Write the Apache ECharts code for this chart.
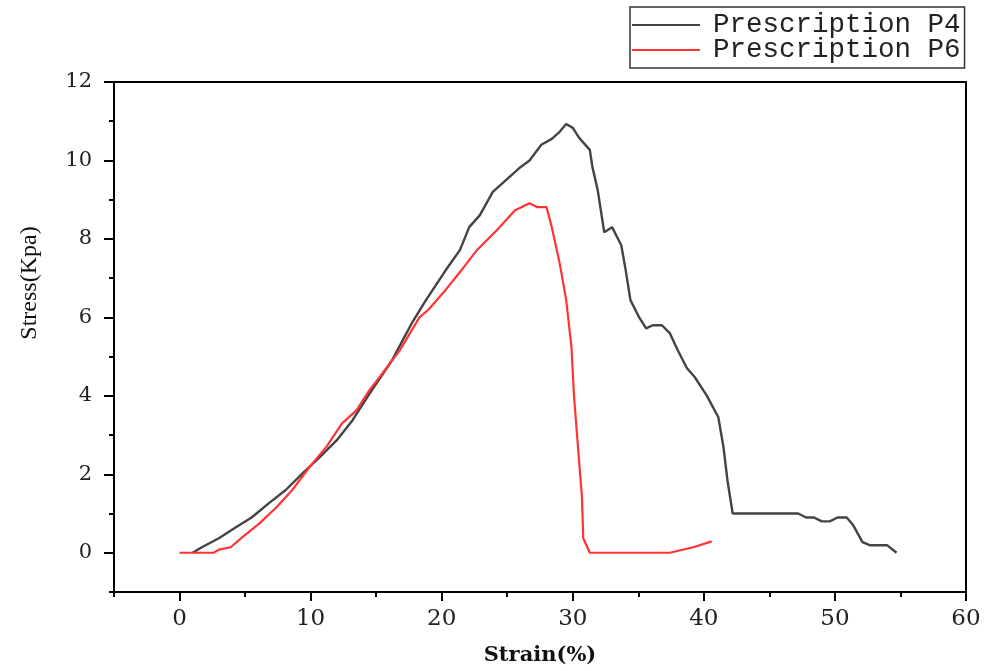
<!DOCTYPE html>
<html>
<head>
<meta charset="utf-8">
<script src="https://cdn.jsdelivr.net/npm/echarts@6/dist/echarts.min.js"></script>
<style>
html,body{margin:0;padding:0;background:#fff;}
#chart{width:984px;height:671px;}
</style>
</head>
<body>
<div id="chart"></div>
<script>
var seriesNames = ['Prescription P4', 'Prescription P6'];
var p4Strain = [1.0,1.7,3.0,4.3,5.5,6.8,8.1,9.4,10.7,12.0,13.2,14.5,16.2,17.0,17.8,18.8,20.3,21.4,22.1,22.9,23.9,24.9,25.9,26.7,27.6,28.4,29.0,29.5,30.0,30.5,31.3,31.5,31.9,32.4,33.0,33.7,34.0,34.4,35.1,35.6,36.1,36.8,37.4,38.0,38.7,39.3,40.2,41.1,41.5,41.8,42.2,47.2,47.8,48.4,49.0,49.6,50.2,50.9,51.4,52.1,52.7,54.0,54.7];
var p4Stress = [0,0.14,0.37,0.65,0.9,1.26,1.6,2.03,2.44,2.87,3.38,4.06,4.9,5.4,5.9,6.44,7.2,7.72,8.3,8.6,9.2,9.5,9.8,10.0,10.4,10.55,10.73,10.93,10.83,10.57,10.27,9.83,9.25,8.17,8.3,7.84,7.28,6.44,5.98,5.72,5.8,5.8,5.6,5.17,4.71,4.48,4.02,3.46,2.69,1.85,1.0,1.0,0.9,0.9,0.8,0.8,0.9,0.9,0.7,0.27,0.19,0.19,0.0];
var p6Strain = [0,2.6,3.0,3.9,4.8,6.1,7.4,8.6,9.9,11.2,12.4,13.5,14.5,15.2,16.0,16.8,18.3,19.0,20.3,21.5,22.7,24.2,25.6,26.7,27.3,28.0,28.4,29.0,29.5,29.9,30.1,30.4,30.7,30.8,31.3,37.4,39.2,40.6];
var p6Stress = [0,0,0.08,0.14,0.4,0.75,1.16,1.6,2.18,2.7,3.3,3.63,4.15,4.45,4.8,5.16,6.0,6.2,6.7,7.2,7.72,8.22,8.73,8.91,8.81,8.81,8.3,7.38,6.44,5.24,3.97,2.69,1.42,0.37,0,0,0.14,0.29];
var xTicks = [0,10,20,30,40,50,60];
var xMinorTicks = [-5,5,15,25,35,45,55];
var yTicks = [0,2,4,6,8,10,12];
var yMinorTicks = [-1,1,3,5,7,9,11];

function pairs(xs, ys){ return xs.map(function(x,i){ return [x, ys[i]]; }); }

var chart = echarts.init(document.getElementById('chart'), null, {renderer:'canvas'});
var lineOn = {show:true, onZero:false, lineStyle:{color:'#000', width:2}};
var lineOff = {show:false, onZero:false};
var tickStyle = {color:'#000', width:2};
var option = {
  backgroundColor:'#fff',
  animation:false,
  grid:{left:114, right:18, top:82, bottom:79, containLabel:false, outerBoundsMode:'none'},
  legend:{
    orient:'vertical', left:630, top:7,
    data:seriesNames, icon:'rect',
    borderColor:'#333', borderWidth:1.5, borderRadius:0,
    padding:[4,4,4,2], itemGap:-3,
    itemWidth:68, itemHeight:2,
    textStyle:{fontFamily:'Liberation Mono', fontSize:27.5, color:'#222', lineHeight:25, height:25, padding:[0,0,0,8]}
  },
  xAxis:[{
    type:'value', min:-5, max:60, position:'bottom',
    name:'Strain(%)', nameLocation:'middle', nameGap:53,
    nameTextStyle:{fontFamily:'DejaVu Serif', fontWeight:'bold', fontSize:21, color:'#111'},
    axisLine:lineOn,
    axisTick:{show:true, inside:false, length:9, customValues:xTicks, lineStyle:tickStyle},
    axisLabel:{margin:16, fontFamily:'DejaVu Serif', fontSize:23, color:'#222', customValues:xTicks},
    splitLine:{show:false}
  },{
    type:'value', min:-5, max:60, position:'bottom', gridIndex:0,
    axisLine:lineOff,
    axisTick:{show:true, inside:false, length:5, customValues:xMinorTicks, lineStyle:tickStyle},
    axisLabel:{show:false}, splitLine:{show:false}
  },{
    type:'value', min:-5, max:60, position:'top',
    axisLine:lineOn, axisTick:{show:false}, axisLabel:{show:false}, splitLine:{show:false}
  }],
  yAxis:[{
    type:'value', min:-1, max:12, position:'left',
    name:'Stress(Kpa)', nameLocation:'middle', nameGap:72, nameRotate:90,
    nameTextStyle:{fontFamily:'Liberation Serif', fontSize:24, color:'#111', padding:[0,0,0,108]},
    axisLine:lineOn,
    axisTick:{show:true, inside:false, length:10, customValues:yTicks, lineStyle:tickStyle},
    axisLabel:{margin:22, fontFamily:'DejaVu Serif', fontSize:21, color:'#222', customValues:yTicks},
    splitLine:{show:false}
  },{
    type:'value', min:-1, max:12, position:'left',
    axisLine:lineOff,
    axisTick:{show:true, inside:false, length:5, customValues:yMinorTicks, lineStyle:tickStyle},
    axisLabel:{show:false}, splitLine:{show:false}
  },{
    type:'value', min:-1, max:12, position:'right',
    axisLine:lineOn, axisTick:{show:false}, axisLabel:{show:false}, splitLine:{show:false}
  }],
  series:[{
    name:seriesNames[0], type:'line', data:pairs(p4Strain,p4Stress),
    symbol:'none', smooth:false, color:'#444444',
    lineStyle:{color:'#444444', width:2.4}
  },{
    name:seriesNames[1], type:'line', data:pairs(p6Strain,p6Stress),
    symbol:'none', smooth:false, color:'#ff3333',
    lineStyle:{color:'#ff3333', width:2.2}
  }]
};
chart.setOption(option);
</script>
</body>
</html>
